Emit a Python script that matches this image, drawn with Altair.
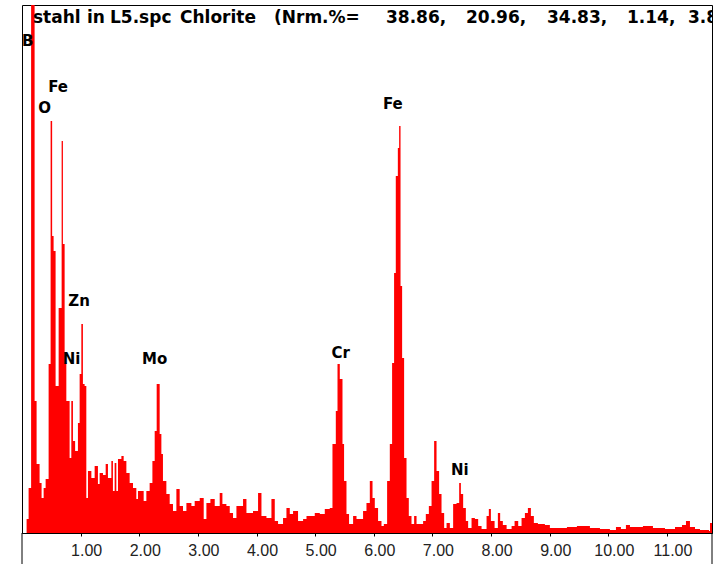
import altair as alt
import pandas as pd

# EDS spectrum: left edge of each step (keV) and counts
energy_kev = [
    0.061, 0.0785, 0.1126, 0.1553, 0.215, 0.249, 0.300, 0.334, 0.369, 0.403,
    0.454, 0.488, 0.514, 0.539, 0.573, 0.625, 0.676, 0.698, 0.727, 0.756,
    0.812, 0.841, 0.869, 0.906, 0.954, 0.983, 1.012, 1.039, 1.068, 1.097,
    1.125, 1.183, 1.239, 1.295, 1.324, 1.381, 1.427, 1.466, 1.524, 1.551,
    1.580, 1.609, 1.637, 1.695, 1.734, 1.780, 1.836, 1.893, 1.950, 1.978,
    2.075, 2.121, 2.177, 2.224, 2.263, 2.297, 2.348, 2.377, 2.404, 2.462,
    2.519, 2.575, 2.633, 2.689, 2.746, 2.804, 2.889, 2.945, 3.031, 3.099,
    3.145, 3.213, 3.287, 3.372, 3.418, 3.486, 3.543, 3.599, 3.657, 3.770,
    3.828, 3.940, 4.026, 4.084, 4.169, 4.254, 4.311, 4.367, 4.452, 4.510,
    4.567, 4.623, 4.708, 4.794, 4.852, 4.993, 5.079, 5.164, 5.249, 5.295,
    5.352, 5.381, 5.420, 5.466, 5.493, 5.534, 5.578, 5.647, 5.705, 5.817,
    5.875, 5.932, 5.978, 6.017, 6.073, 6.131, 6.171, 6.227, 6.273, 6.312,
    6.346, 6.375, 6.410, 6.432, 6.456, 6.483, 6.517, 6.558, 6.597, 6.643,
    6.688, 6.729, 6.841, 6.887, 6.939, 6.985, 7.029, 7.070, 7.114, 7.155,
    7.200, 7.241, 7.297, 7.353, 7.411, 7.456, 7.485, 7.524, 7.570, 7.609,
    7.667, 7.724, 7.780, 7.838, 7.923, 7.962, 7.997, 8.060, 8.116, 8.155,
    8.201, 8.265, 8.350, 8.401, 8.463, 8.520, 8.577, 8.628, 8.679, 8.730,
    8.799, 8.918, 9.003, 9.174, 9.294, 9.464, 9.686, 9.857, 10.027, 10.130,
    10.215, 10.300, 10.369, 10.590, 10.761, 10.966, 11.137, 11.256, 11.324, 11.392,
    11.478, 11.563, 11.717, 11.734, 11.768,
]
counts = [
    0, 28, 90, 1100, 264, 138, 100, 70, 90, 108,
    338, 824, 594, 564, 294, 450, 784, 578, 340, 264,
    150, 264, 184, 164, 220, 318, 418, 298, 294, 70,
    124, 110, 134, 98, 120, 116, 138, 110, 144, 84,
    140, 84, 148, 154, 144, 120, 100, 90, 68, 84,
    64, 84, 100, 144, 204, 298, 198, 158, 104, 78,
    58, 44, 88, 54, 44, 60, 54, 64, 70, 28,
    60, 68, 54, 80, 58, 54, 40, 30, 54, 68,
    40, 44, 80, 34, 30, 68, 24, 18, 30, 50,
    38, 44, 24, 28, 34, 40, 38, 48, 50, 178,
    244, 338, 308, 178, 104, 38, 18, 34, 28, 44,
    60, 104, 70, 50, 24, 14, 18, 104, 178, 340,
    520, 714, 770, 814, 494, 350, 150, 70, 34, 18,
    34, 18, 24, 38, 54, 104, 184, 124, 78, 40,
    10, 20, 10, 58, 60, 100, 78, 50, 24, 10,
    30, 28, 14, 8, 34, 48, 24, 10, 40, 24,
    16, 8, 14, 24, 14, 30, 40, 50, 34, 20,
    18, 16, 10, 10, 12, 14, 10, 8, 6, 12,
    8, 16, 12, 14, 10, 8, 12, 16, 24, 12,
    8, 6, 4, 20, 20,
]

peak_labels = ["B", "Fe", "O", "Zn", "Ni", "Mo", "Cr", "Fe", "Ni"]
label_kev = [0.096, 0.616, 0.386, 0.974, 0.846, 2.263, 5.437, 6.324, 7.468]
label_counts = [984, 892, 850, 465, 348, 348, 360, 858, 126]

tick_values = [1, 2, 3, 4, 5, 6, 7, 8, 9, 10, 11]
tick_labels = ["1.00", "2.00", "3.00", "4.00", "5.00", "6.00", "7.00", "8.00", "9.00", "10.00", "11.00"]
kev_max = 11.768
count_max = 1056

title_text = "stahl in L5.spc Chlorite (Nrm.%= 38.86, 20.96, 34.83, 1.14, 3.8"

W, H = 690, 528

# the header words are set one by one to follow the wide spacing of the original
word_left_px = [11, 65, 88, 158, 252, 364, 444, 525, 605, 666]
title_words = title_text.split(" ")

spec = pd.DataFrame({"E": energy_kev, "c": counts})
labels = pd.DataFrame({"t": peak_labels, "E": label_kev, "c": label_counts})
ticks = pd.DataFrame({"E": tick_values, "t": tick_labels})

xs = alt.Scale(domain=[0, kev_max], nice=False, zero=False)
ys = alt.Scale(domain=[0, count_max], nice=False)

area = alt.Chart(spec).mark_area(
    interpolate="step-after", color="#ff0000", opacity=1, clip=True
).encode(
    x=alt.X("E:Q", scale=xs, axis=alt.Axis(
        values=tick_values, labels=False, title=None, grid=False,
        domainColor="#000000", domainWidth=1, tickColor="#000000", tickSize=3)),
    y=alt.Y("c:Q", scale=ys, axis=None),
)

tick_text = alt.Chart(ticks).mark_text(
    font="Liberation Sans", fontSize=16, color="#222222",
    align="center", baseline="alphabetic", dx=6, clip=False,
).encode(x=alt.X("E:Q", scale=xs), y=alt.value(H + 23), text="t:N")

peak_text = alt.Chart(labels).mark_text(
    font="DejaVu Sans", fontWeight="bold", fontSize=15, color="#000000",
    align="center", baseline="middle",
).encode(x=alt.X("E:Q", scale=xs), y=alt.Y("c:Q", scale=ys), text="t:N")

layers = [area, tick_text, peak_text]
for word, px in zip(title_words, word_left_px):
    layers.append(
        alt.Chart(pd.DataFrame({"t": [word]})).mark_text(
            font="DejaVu Sans", fontWeight="bold", fontSize=17, color="#000000",
            align="left", baseline="alphabetic", clip=True,
        ).encode(x=alt.value(px), y=alt.value(18), text="t:N")
    )

# frame sides continue below the axis
for px in [0, W]:
    layers.append(
        alt.Chart(pd.DataFrame({"a": [0]})).mark_rule(color="#000000", strokeWidth=1, clip=False)
        .encode(x=alt.value(px), y=alt.value(H), y2=alt.value(H + 31))
    )

chart = alt.layer(*layers).properties(
    width=W, height=H,
    padding={"left": 22, "top": 5, "right": 14, "bottom": 31},
    autosize=alt.AutoSizeParams(type="none"),
    background="#ffffff",
).configure_view(stroke="#000000", strokeWidth=1)

chart.save("out.html", embed_options={"renderer": "svg", "actions": False})
